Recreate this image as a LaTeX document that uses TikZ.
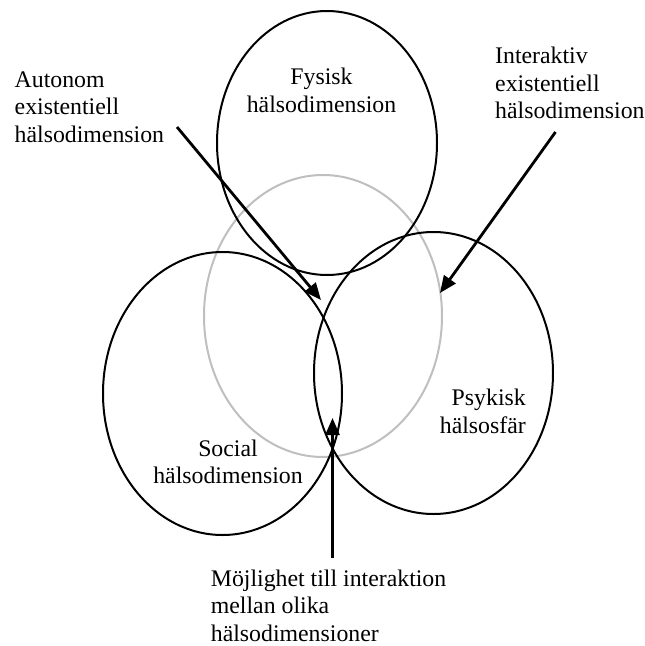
\documentclass[tikz,border=0pt]{standalone}
\usepackage{fontspec}
\setmainfont{Liberation Serif}
\usetikzlibrary{shapes.geometric,arrows.meta}
\begin{document}
\begin{tikzpicture}[x=1pt,y=-1pt,
  circ/.style={ellipse,draw=black,line width=2pt,inner sep=0pt},
  graycirc/.style={ellipse,draw=black!25,line width=2pt,inner sep=0pt},
  lbl/.style={inner sep=0pt,font=\fontsize{23.8}{27.4}\selectfont},
  arr/.style={line width=2.8pt,-{Triangle[length=17pt,width=14pt]}}]
\useasboundingbox (0,0) rectangle (645,646);
% ellipses
\node[graycirc,minimum width=238pt,minimum height=282pt] (mid) at (323,316) {};
\node[circ,minimum width=220pt,minimum height=264pt] (fys) at (327,143) {};
\node[circ,minimum width=239pt,minimum height=283pt] (soc) at (222.5,393.5) {};
\node[circ,minimum width=239pt,minimum height=282pt] (psy) at (433.5,373) {};
% labels (base anchor = baseline of last line)
\node[lbl,anchor=base,align=center] (tfys) at (321.5,112) {Fysisk\\hälsodimension};
\node[lbl,anchor=base,align=center] (tsoc) at (228,483.5) {Social\\hälsodimension};
\node[lbl,anchor=base east,align=right] (tpsy) at (526,433) {Psykisk\\hälsosfär};
\node[lbl,anchor=base west,align=left] (taut) at (14.5,142) {Autonom\\existentiell\\hälsodimension};
\node[lbl,anchor=base west,align=left] (tint) at (495,118.5) {Interaktiv\\existentiell\\hälsodimension};
\node[lbl,anchor=base west,align=left] (tmoj) at (210.7,641) {Möjlighet till interaktion\\mellan olika\\hälsodimensioner};
% arrows
\coordinate (a1s) at (177,127);
\coordinate (a1e) at (321,300);
\coordinate (a2s) at (555.5,132);
\coordinate (a2e) at (440,293);
\coordinate (a3s) at (332.5,558);
\coordinate (a3e) at (332.5,418);
\draw[arr] (a1s) -- (a1e);
\draw[arr] (a2s) -- (a2e);
\draw[arr] (a3s) -- (a3e);
\end{tikzpicture}
\end{document}
